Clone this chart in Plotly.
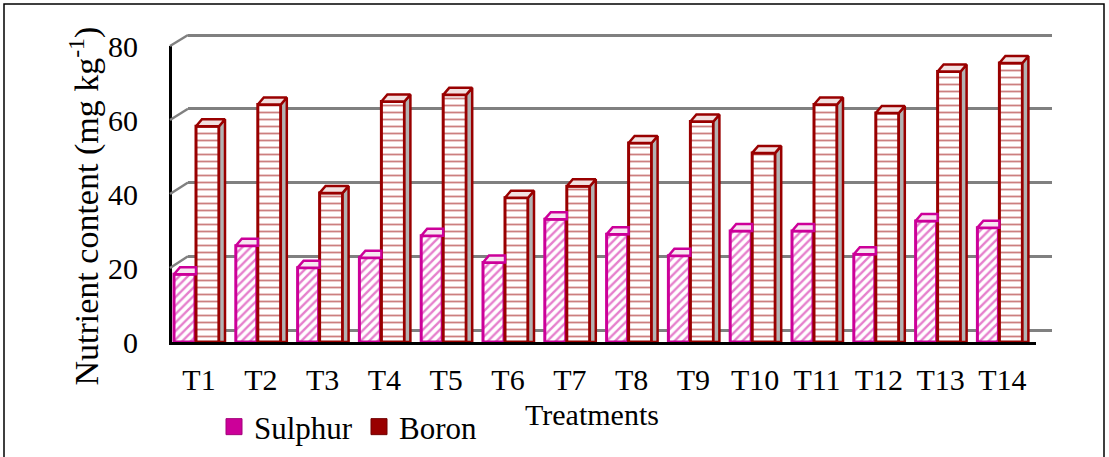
import plotly.graph_objects as go

# ---- data -------------------------------------------------------------
treatments = ["T1", "T2", "T3", "T4", "T5", "T6", "T7",
              "T8", "T9", "T10", "T11", "T12", "T13", "T14"]
sulphur = [18.3, 26.0, 20.1, 22.8, 28.7, 21.5, 33.2,
           29.1, 23.3, 30.0, 30.0, 23.7, 32.7, 30.9]
boron = [58.3, 64.2, 40.3, 65.0, 66.8, 39.0, 42.1,
         53.8, 59.6, 51.1, 64.2, 61.9, 73.1, 75.4]
y_ticks = [0, 20, 40, 60, 80]

# ---- styling / geometry -------------------------------------------------
SUL_C = "#CC0099"
BOR_C = "#990000"
GRID_C = "#808080"
FONT = "Liberation Serif, Times New Roman, serif"

FIG_W, FIG_H = 1109, 457
L, R, T, B = 172, 1052, 32, 342          # outer plot box (front floor + back wall)
FRONT_R, FRONT_T = 1036, 46              # front plane extent
WALL_X0, WALL_BOT, WALL_TOP = 188, 330, 35   # back wall: left edge, 0 and 80 levels
W, H = R - L, B - T

CAT0, PX_PER_CAT = 199, 61.8             # pixel centre of first category, spacing
PX_PER_UNIT = (B - FRONT_T) / 80.0
x_lo = (L - CAT0) / PX_PER_CAT
x_hi = (FRONT_R - CAT0) / PX_PER_CAT

wall_ppu = (WALL_BOT - WALL_TOP) / 80.0
wall_lo = -(B - 9 - WALL_BOT) / wall_ppu          # wall spans pixel B-9 .. T
wall_hi = 80 + (WALL_TOP - T) / wall_ppu

idx = list(range(len(treatments)))
s_off, s_w = -25 / PX_PER_CAT, 21 / PX_PER_CAT
b_off, b_w = -3 / PX_PER_CAT, 23 / PX_PER_CAT
dx, dy = 6 / PX_PER_CAT, 7 / PX_PER_UNIT  # bar depth in data units


def polys(list_of_pts):
    xs, ys = [], []
    for pts in list_of_pts:
        for px, py in pts:
            xs.append(px)
            ys.append(py)
        xs.append(pts[0][0]); ys.append(pts[0][1])
        xs.append(None); ys.append(None)
    return xs, ys


# top faces of sulphur bars (right part hidden behind the boron bar)
sul_top = []
for i, v in zip(idx, sulphur):
    xl = i + s_off
    xr = i + b_off
    sul_top.append([(xl, v), (xr, v), (xr, v + dy), (xl + dx, v + dy)])

bor_side, bor_top = [], []
for i, v in zip(idx, boron):
    xl = i + b_off
    xr = xl + b_w
    bor_side.append([(xr, 0), (xr, v), (xr + dx, v + dy), (xr + dx, 0)])
    bor_top.append([(xl, v), (xr, v), (xr + dx, v + dy), (xl + dx, v + dy)])

fig = go.Figure()

# invisible trace keeping the back-wall subplot alive
fig.add_trace(go.Scatter(x=[None], y=[None], xaxis="x", yaxis="y",
                         showlegend=False, hoverinfo="skip"))

fig.add_trace(go.Bar(
    x=idx, y=sulphur, width=s_w, offset=s_off, xaxis="x2", yaxis="y2",
    marker=dict(color="white",
                line=dict(color=SUL_C, width=3),
                pattern=dict(shape="/", fgcolor=SUL_C, bgcolor="white",
                             size=6, solidity=0.4)),
    showlegend=False, hoverinfo="skip"))

fig.add_trace(go.Bar(
    x=idx, y=boron, width=b_w, offset=b_off, xaxis="x2", yaxis="y2",
    marker=dict(color="white",
                line=dict(color=BOR_C, width=3),
                pattern=dict(shape="-", fgcolor=BOR_C, bgcolor="white",
                             size=7, solidity=0.26)),
    showlegend=False, hoverinfo="skip"))

xs, ys = polys(sul_top)
fig.add_trace(go.Scatter(x=xs, y=ys, xaxis="x2", yaxis="y2", mode="lines",
                         fill="toself", fillcolor="#f7e6f1",
                         line=dict(color=SUL_C, width=2.5),
                         showlegend=False, hoverinfo="skip"))

xs, ys = polys(bor_side)
fig.add_trace(go.Scatter(x=xs, y=ys, xaxis="x2", yaxis="y2", mode="lines",
                         fill="toself", fillcolor="#b3b3b3",
                         line=dict(color=BOR_C, width=2.5),
                         showlegend=False, hoverinfo="skip"))

xs, ys = polys(bor_top)
fig.add_trace(go.Scatter(x=xs, y=ys, xaxis="x2", yaxis="y2", mode="lines",
                         fill="toself", fillcolor="#f2e0e0",
                         line=dict(color=BOR_C, width=2.5),
                         showlegend=False, hoverinfo="skip"))

# legend entries
for name, col, edge in [("Sulphur", SUL_C, "#a3007a"), ("Boron", BOR_C, "#700000")]:
    fig.add_trace(go.Scatter(x=[None], y=[None], xaxis="x2", yaxis="y2",
                             mode="markers", name=name,
                             marker=dict(symbol="square", size=16, color=col,
                                         line=dict(color=edge, width=1))))

# left-wall connectors between the front axis and the back-wall gridlines
shapes = []
for t in y_ticks[1:]:
    y_front = (PX_PER_UNIT * t) / H
    y_back = (B - (WALL_BOT - wall_ppu * t)) / H
    shapes.append(dict(type="line", xref="paper", yref="paper",
                       x0=(170 - L) / W, x1=(WALL_X0 - L) / W,
                       y0=y_front, y1=y_back,
                       line=dict(color=GRID_C, width=2.5), layer="above"))
shapes.append(dict(type="rect", xref="paper", yref="paper",
                   x0=(4 - L) / W, x1=(1104 - L) / W,
                   y0=(B - 475) / H, y1=(B - 4) / H,
                   line=dict(color="black", width=1.5), layer="below"))

annotations = [
    dict(text="Nutrient content (mg kg<sup>-1</sup>)", xref="paper", yref="paper",
         x=(84 - L) / W, y=(B - 206.5) / H, textangle=-90, showarrow=False,
         xanchor="center", yanchor="middle",
         font=dict(family=FONT, size=34, color="black")),
    dict(text="Treatments", xref="paper", yref="paper",
         x=(592 - L) / W, y=(B - 414) / H, showarrow=False,
         xanchor="center", yanchor="middle",
         font=dict(family=FONT, size=30, color="black")),
]

fig.update_layout(
    width=FIG_W, height=FIG_H,
    margin=dict(l=L, r=FIG_W - R, t=T, b=FIG_H - B, pad=0, autoexpand=False),
    paper_bgcolor="white", plot_bgcolor="rgba(0,0,0,0)",
    barmode="overlay", hovermode=False,
    font=dict(family=FONT, color="black"),
    xaxis=dict(domain=[(WALL_X0 - L) / W, 1], range=[0, 1], showgrid=False,
               showticklabels=False, zeroline=False, showline=False, ticks=""),
    yaxis=dict(domain=[9 / H, 1], range=[wall_lo, wall_hi], tickvals=y_ticks,
               showgrid=True, gridcolor=GRID_C, gridwidth=2.5,
               showticklabels=False, zeroline=False, showline=False, ticks=""),
    xaxis2=dict(domain=[0, (FRONT_R - L) / W], anchor="y2", range=[x_lo, x_hi],
                tickvals=idx, ticktext=treatments, showgrid=False, zeroline=False,
                showline=True, linecolor="black", linewidth=3,
                ticks="outside", ticklen=9, tickcolor="rgba(0,0,0,0)",
                tickfont=dict(family=FONT, size=30, color="black")),
    yaxis2=dict(domain=[0, (B - FRONT_T) / H], anchor="x2", range=[0, 80],
                tickvals=y_ticks, showgrid=False, zeroline=False,
                showline=True, linecolor="black", linewidth=3,
                ticks="outside", ticklen=25, tickcolor="rgba(0,0,0,0)",
                tickfont=dict(family=FONT, size=30, color="black")),
    legend=dict(orientation="h", x=(214 - L) / W, xanchor="left",
                y=(B - 400) / H, yanchor="top", bgcolor="rgba(0,0,0,0)",
                entrywidth=100, entrywidthmode="pixels",
                font=dict(family=FONT, size=31, color="black")),
    shapes=shapes, annotations=annotations,
)

fig.write_html("out.html")
